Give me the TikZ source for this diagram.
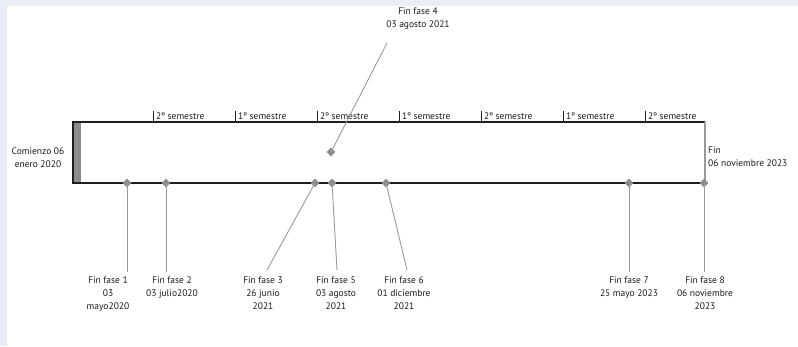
\documentclass[tikz,border=0pt]{standalone}
\usepackage{fontspec}
\setmainfont{PT Sans}
\usetikzlibrary{shapes.geometric}
\definecolor{framebg}{HTML}{E8EEF3}
\definecolor{gemfill}{HTML}{8C8C8C}
\definecolor{leadgray}{HTML}{9A9A9A}
\definecolor{boxedge}{HTML}{1E1E1E}
\tikzset{
  gem/.style={diamond, fill=gemfill, inner sep=0pt, minimum size=9pt},
  leader/.style={draw=leadgray, line width=0.9pt},
  lbl/.style={align=center, font=\fontsize{9.5}{13}\selectfont, inner sep=0pt, text=black!90},
  semtick/.style={draw=boxedge, line width=0.6pt},
  semlbl/.style={anchor=west, font=\fontsize{9.5}{11}\selectfont, inner sep=0pt, text=black!90},
}
\begin{document}
\begin{tikzpicture}[x=1pt, y=-1pt]
\useasboundingbox (0,0) rectangle (798,346);
% page frame strips
\fill[framebg] (0,0) rectangle (798,6);
\fill[framebg] (0,0) rectangle (7,346);

% timeline box
\coordinate (tl) at (73,122);
\coordinate (tr) at (705,122);
\coordinate (bl) at (73,183);
\coordinate (br) at (705,183);
\fill[gemfill] (73,122) rectangle (81,183);
\draw[boxedge, line width=1.3pt] (tr) -- (tl) -- (bl) -- (br);
\draw[leadgray, line width=1.2pt] (tr) -- (br);

% semester ticks and labels
\foreach \x/\t in {153/2º semestre, 235/1º semestre, 317/2º semestre, 399/1º semestre, 481/2º semestre, 563/1º semestre, 645/2º semestre}{
  \draw[semtick] (\x,111) -- (\x,122);
  \node[semlbl] at (\x+3,116.5) {\t};
}

% start and end labels
\node[lbl] (start) at (38,157.5) {Comienzo 06\\enero 2020};
\node[lbl, align=left, anchor=west] (end) at (708,157) {Fin\\06 noviembre 2023};

% milestone markers
\node[gem] (d1) at (127,183) {};
\node[gem] (d2) at (166,183) {};
\node[gem] (d3) at (315,183) {};
\node[gem] (d5) at (332,183) {};
\node[gem] (d6) at (386,183) {};
\node[gem] (d7) at (629,183) {};
\node[gem] (d8) at (704,183) {};
\node[gem] (d4) at (331,152) {};

% leader ends
\coordinate (e1) at (127,272);
\coordinate (e2) at (166,272);
\coordinate (e3) at (267,270);
\coordinate (e5) at (337,270);
\coordinate (e6) at (407,270);
\coordinate (e7) at (629,272);
\coordinate (e8) at (704,272);
\coordinate (e4) at (387,43);

\foreach \i in {1,2,3,5,6,7,8,4}{
  \draw[leader] (d\i.center) -- (e\i);
}

% milestone labels
\node[lbl, anchor=north] (l1) at (108,277) {Fin fase 1\\03\\mayo2020};
\node[lbl, anchor=north] (l2) at (172,277) {Fin fase 2\\03 julio2020};
\node[lbl, anchor=north] (l3) at (263,277) {Fin fase 3\\26 junio\\2021};
\node[lbl, anchor=north] (l5) at (336,277) {Fin fase 5\\03 agosto\\2021};
\node[lbl, anchor=north] (l6) at (404,277) {Fin fase 6\\01 diciembre\\2021};
\node[lbl, anchor=north] (l7) at (629,277) {Fin fase 7\\25 mayo 2023};
\node[lbl, anchor=north] (l8) at (705,277) {Fin fase 8\\06 noviembre\\2023};
\node[lbl, anchor=north] (l4) at (418,8) {Fin fase 4\\03 agosto 2021};
\end{tikzpicture}
\end{document}
